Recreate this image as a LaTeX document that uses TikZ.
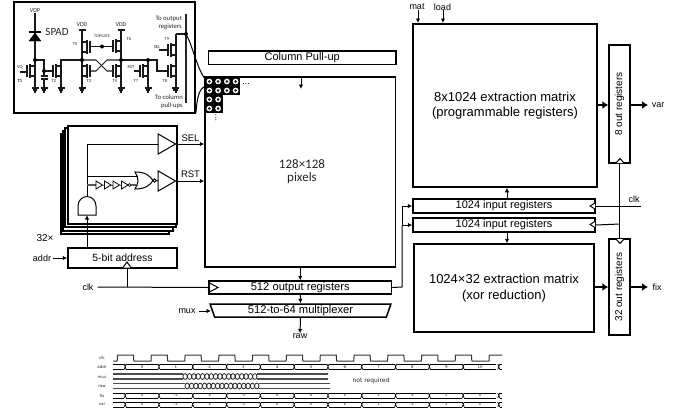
\documentclass[tikz,border=0pt]{standalone}
\usepackage{fontspec}
\setmainfont{Liberation Sans}
\newfontfamily\insetfont{Carlito}
\newfontfamily\wavefont{DejaVu Sans}
\usetikzlibrary{arrows.meta,calc,shapes.geometric}
\tikzset{
  bx/.style={draw=black,line width=1.5pt,fill=white,inner sep=0pt,align=center,font=\fontsize{11.2}{13}\selectfont},
  wire/.style={line width=1pt,black},
  arr/.style={wire,-{Latex[length=4.5pt,width=4.5pt]}},
  thickarr/.style={line width=2.4pt,-{Latex[length=6pt,width=8pt]}},
  lbl/.style={inner sep=0pt,font=\fontsize{9.5}{11}\selectfont},
  cw/.style={line width=1.05pt,black!90},
  clab/.style={inner sep=0pt,font=\insetfont\fontsize{4.6}{5}\selectfont,black!85},
  dot/.style={fill=black,circle,inner sep=0pt,minimum size=4pt},
  wl/.style={inner sep=0pt,font=\wavefont\fontsize{4}{4.5}\selectfont,black!85},
  wv/.style={line width=1pt,black},
  clktri/.style={draw=black,line width=1pt,fill=white},
  bigtxt/.style={font=\fontsize{13}{15.5}\selectfont},
  smalltxt/.style={font=\fontsize{10.4}{12}\selectfont},
  inputtxt/.style={font=\fontsize{11}{13}\selectfont}
}
% box from left top right bottom
\newcommand{\bxnode}[7][]{%
  \pgfmathsetmacro{\bxw}{#5-#3}\pgfmathsetmacro{\bxh}{#6-#4}%
  \pgfmathsetmacro{\bxx}{(#3+#5)/2}\pgfmathsetmacro{\bxy}{(#4+#6)/2}%
  \node[bx,#1,minimum width=\bxw pt,minimum height=\bxh pt] (#2) at (\bxx,\bxy) {#7};}
% transistor: channel x, centre y, direction of rail (+1 right, -1 left), top y of rail, bottom y of rail
\newcommand{\fet}[5]{%
  \pgfmathsetmacro{\rx}{#1+5*#3}\pgfmathsetmacro{\gx}{#1-3*#3}%
  \draw[cw] (#1,#2-7)--(#1,#2+7);
  \draw[cw] (\gx,#2-6)--(\gx,#2+6);
  \draw[cw] (#1,#2-5)--(\rx,#2-5);
  \draw[cw] (#1,#2+5)--(\rx,#2+5);
  \draw[cw] (\rx,#4)--(\rx,#5);}
\newcommand{\gnd}[1]{%
  \draw[cw] (#1-3.5,88)--(#1+3.5,88) (#1-2.3,90)--(#1+2.3,90) (#1-1,92)--(#1+1,92);}
\begin{document}
\begin{tikzpicture}[x=1pt,y=-1pt]
\useasboundingbox (0,0) rectangle (686,413);
% ---------------- inset
\node[draw=black,line width=1.5pt,inner sep=0pt,minimum width=181pt,minimum height=111pt] (inset) at (104.5,57.5) {};
\node[clab,font=\insetfont\fontsize{6}{7}\selectfont] (vdp) at (35,11) {VDP};
\coordinate (j1) at (35,60);
\draw[cw] (vdp.south)--(j1);
\draw[fill=black] (29,41)--(41,41)--(35,33)--cycle;
\draw[line width=1.4pt] (29,32)--(41,32);
\node[inner sep=0pt,font=\insetfont\fontsize{11}{12}\selectfont,black!85] (spad) at (57,32) {SPAD};
\fet{30}{71}{1}{60}{88}\gnd{35}
\node[clab] (vq) at (20,67.5) {VQ};
\node[clab,font=\insetfont\bfseries\fontsize{4.6}{5}\selectfont] (t1) at (20,81) {T1};
\draw[cw] (20,72)--(27,72);
\coordinate (j2) at (44,71);
\draw[cw] (j1)--(44,60)--(j2)--(53,71);
\draw[cw] (j2)--(44,76) (44,79)--(44,88);
\draw[cw] (40.5,76)--(47.5,76) (40.5,79)--(47.5,79);
\gnd{44}
\fet{56}{71}{1}{66}{88}\gnd{61}
\node[clab] (t2) at (54,81) {T2};
\coordinate (j3) at (82,60);
\coordinate (j4) at (121,60);
\coordinate (j5) at (148,60);
\draw[cw] (61,66)--(61,60)--(j3);
\draw[cw] (j4)--(j5);
\fet{87}{71}{-1}{60}{88}\gnd{82}
\fet{87}{47}{-1}{30}{60}
\fet{116}{71}{1}{60}{88}\gnd{121}
\fet{116}{46}{1}{30}{60}
\node[clab,font=\insetfont\fontsize{6}{7}\selectfont] (vdd1) at (82,24.5) {VDD};
\node[clab,font=\insetfont\fontsize{6}{7}\selectfont] (vdd2) at (121,24.5) {VDD};
\draw[cw] (78.5,30)--(85.5,30) (117.5,30)--(124.5,30);
\coordinate (j6) at (102,46.5);
\node[clab,font=\insetfont\fontsize{4.2}{5}\selectfont] (topgate) at (102,36) {TOPGATE};
\draw[cw] (90,46.5)--(113,46.5);
\draw[cw] (90,71)--(96,71)--(107,60)--(j4);
\draw[cw] (113,71)--(107,71)--(96,60)--(j3);
\node[clab] (t5) at (75,44) {T5};
\node[clab] (t6) at (129,39) {T6};
\node[clab] (t3) at (89,81) {T3};
\node[clab] (t4) at (115,81) {T4};
\fet{143}{71}{1}{60}{88}\gnd{148}
\node[clab] (rst2) at (131,67.5) {RST};
\draw[cw] (134,71)--(140,71);
\node[clab] (t7) at (136,81) {T7};
\draw[cw] (j5)--(157,60)--(157,71)--(168,71);
\fet{171}{71}{1}{55}{88}\gnd{175.5}
\fet{171}{50}{1}{34}{55}
\coordinate (j7) at (186,34);
\draw[cw] (176,34)--(j7);
\draw[line width=1.2pt,black!85] (186,14)--(186,103);
\node[clab] (sel2) at (157,47) {SEL};
\draw[cw] (159,50)--(168,50);
\node[clab] (t9) at (167,39) {T9};
\node[clab] (t8) at (165,81) {T8};
\node[inner sep=0pt,align=right,font=\insetfont\fontsize{6.7}{8}\selectfont,black!85,anchor=east] (toout) at (182,23) {To output\\registers};
\node[inner sep=0pt,align=right,font=\insetfont\fontsize{6.7}{8}\selectfont,black!85,anchor=east] (tocol) at (183,102) {To column\\pull-ups};
\foreach \c in {j1,j2,j3,j4,j5,j6,j7}{\node[dot] (d\c) at (\c) {};}
% ---------------- pixel array main box
\bxnode{pix}{205}{77}{395.5}{267}{}
\node[inner sep=0pt,align=center,font=\insetfont\fontsize{13}{13.5}\selectfont,black!85] (pixt) at (302,171.5) {128×128\\pixels};
\bxnode[inputtxt]{pull}{208.5}{51}{396}{64.5}{Column Pull-up}
\coordinate (pullend) at (301,89);
\draw[arr] (pix.north -| pullend)--(pullend);
% pixel cells
\foreach \i/\j in {0/0,1/0,2/0,3/0,0/1,1/1,2/1,3/1,0/2,1/2,0/3,1/3}{
  \fill[black] (205+\i*8.75,77+\j*9) rectangle ++(8.75,9);
  \fill[white] (205+\i*8.75+4.37,77+\j*9+4.5) circle (2.9);
  \fill[black!85] (205+\i*8.75+4.37,77+\j*9+4.5) circle (1.5);
}
\node[inner sep=0pt,font=\fontsize{9}{9}\selectfont] (hd) at (246,84) {...};
\node[inner sep=0pt,font=\fontsize{9}{9}\selectfont,rotate=90] (vd) at (216,118) {...};
\draw[line width=1pt] (j7) .. controls (192,44) and (197,68) .. (204.5,78);
\draw[line width=1pt] (196,112.5) .. controls (197,98) and (199,88) .. (206,86);
% ---------------- row block stack
\foreach \l/\t/\r/\b in {61/134/169/234,63/131/173/231,65/128/176/227}{
  \draw[line width=1.5pt,fill=white] (\l,\t) rectangle (\r,\b);
}
\draw[line width=1.5pt,fill=white] (68,126) rectangle (177,224);
\draw[line width=1.5pt] (68,126)--(68,224);
\node[lbl,font=\fontsize{10}{11}\selectfont] (n32) at (45,238) {32×};
\bxnode[smalltxt]{addrbox}{68}{248}{177}{268}{5-bit address}
\node[lbl,font=\fontsize{9}{11}\selectfont] (addrl) at (42,258) {addr};
\draw[arr] (addrl.east)++(2,0)--(addrbox.west);
% AND
\draw[line width=1pt,fill=white] (78,215)--(96,215)--(96,206) arc (0:-180:9 and 9.5)--cycle;
\coordinate (andtop) at (87,196.5);
\coordinate (andbot) at (87,215);
\draw[arr] (addrbox.north -| andbot)--(andbot);
% buffers
\node[draw,line width=1pt,isosceles triangle,isosceles triangle apex angle=60,inner sep=0pt,minimum height=17pt,minimum width=20pt,shape border rotate=0,fill=white] (bufa) at (164,144) {};
\node[draw,line width=1pt,isosceles triangle,isosceles triangle apex angle=60,inner sep=0pt,minimum height=17pt,minimum width=20pt,shape border rotate=0,fill=white] (bufb) at (164,181) {};
\draw[wire] (andtop)--(87,144)--(bufa.west);
\draw[arr] (bufa.east)--(pix.west |- bufa.east);
\draw[arr] (bufb.east)--(pix.west |- bufb.east);
\node[lbl] (sel) at (190.5,138) {SEL};
\node[lbl] (rstl) at (190.5,174.5) {RST};
% NOR + delay chain
\draw[line width=1pt,fill=white] (135,172) .. controls (146,172) and (150,176) .. (153,180.5) .. controls (150,185) and (146,189) .. (135,189) .. controls (139,183) and (139,178) .. (135,172)--cycle;
\draw[line width=.8pt,fill=white] (154.5,180.5) circle (1.8);
\draw[wire] (156.3,180.5)--(bufb.west);
\draw[wire] (87,176)--(137.5,176);
\draw[line width=1.1pt,black!65] (87,185)--(96,185);
\foreach \x [count=\k] in {96,104.5,113}{
  \draw[line width=.8pt,fill=white] (\x,181)--(\x+6.5,185)--(\x,189)--cycle;
  \draw[line width=.8pt,black!65] (\x+6.5,185)--(\x+8.5,185);
}
\draw[line width=.8pt,fill=white] (121.5,181)--(128,185)--(121.5,189)--cycle;
\draw[line width=.7pt,fill=white] (129.5,185) circle (1.5);
\draw[line width=1.1pt,black!65] (131,185)--(137.5,185);
% clk
\node[lbl,font=\fontsize{9}{11}\selectfont] (clkl) at (88,287) {clk};
\bxnode{outreg}{209}{281}{391.5}{294}{512 output registers}
\coordinate (clkj) at (127,287);
\coordinate (addrclk) at (127,263);
\draw[wire] (clkl.east)++(4,0)--(outreg.west);
\draw[wire] (clkj)--(addrclk);
\draw[clktri] (123,267.5)--(127,262)--(131,267.5);
\draw[line width=1pt] (209.5,283)--(218,287.5)--(209.5,292);
\draw[arr] (pix.south -| outreg.north)--(outreg.north);
\node[trapezium,draw=black,line width=1.5pt,fill=white,shape border rotate=180,trapezium stretches=true,trapezium left angle=75,trapezium right angle=75,inner sep=0pt,minimum width=181pt,minimum height=13pt,font=\fontsize{11.2}{13}\selectfont] (muxb) at (300.5,310.5) {512-to-64 multiplexer};
\draw[arr] (outreg.south)--(muxb.north);
\node[lbl,font=\fontsize{9}{11}\selectfont] (muxl) at (187,311) {mux};
\draw[arr] (muxl.east)++(3,0)--(211,311);
\node[lbl,font=\fontsize{9}{11}\selectfont] (rawl) at (300,336) {raw};
\draw[arr] (muxb.south)--(rawl.north);
% ---------------- right
\bxnode[bigtxt]{mat8}{413}{24}{597}{187}{8x1024 extraction matrix\\(programmable registers)}
\bxnode[inputtxt]{inA}{413}{199}{595}{213}{1024 input registers}
\bxnode[inputtxt]{inB}{413}{218}{595}{232}{1024 input registers}
\bxnode[bigtxt]{mat32}{414}{244}{594}{332}{1024×32 extraction matrix\\(xor reduction)}
\bxnode{out8}{609}{45}{630}{163}{\rotatebox{90}{\fontsize{10}{11}\selectfont 8 out registers}}
\bxnode{out32}{609}{239}{630}{335}{\rotatebox{90}{\fontsize{10}{11}\selectfont 32 out registers}}
\node[lbl,font=\fontsize{9}{11}\selectfont] (matl) at (417,7) {mat};
\node[lbl,font=\fontsize{9}{11}\selectfont] (loadl) at (442.5,7) {load};
\draw[arr] (418,10)--(418,23);
\draw[arr] (443,10)--(443,23);
\draw[arr] (inA.north -| 507,0)--(mat8.south -| 507,0);
\draw[arr] (inB.south -| 507,0)--(mat32.north -| 507,0);
\coordinate (busj) at (402,225);
\draw[wire] (outreg.east)--(402,287)--(busj);
\draw[arr] (402,287 |- inA.west)--(inA.west);
\draw[wire] (busj)--(402,206);
\draw[arr] (busj)--(inB.west);
\draw[thickarr] (mat8.east |- 0,105)--(out8.west |- 0,105);
\draw[thickarr] (out8.east |- 0,105)--(648,105);
\draw[thickarr] (mat32.east |- 0,287)--(out32.west |- 0,287);
\draw[thickarr] (out32.east |- 0,287)--(648,287);
\node[lbl,font=\fontsize{9}{11}\selectfont] (varl) at (658,105) {var};
\node[lbl,font=\fontsize{9}{11}\selectfont] (fixl) at (657,287.5) {fix};
\node[lbl,font=\fontsize{9}{11}\selectfont] (clkr) at (634,199) {clk};
\coordinate (clkend) at (641,206);
\draw[wire] (inA.east)--(clkend);
\coordinate (clkv) at (620,224);
\draw[wire] (inB.east)--(clkv);
\draw[wire] (out8.south)--(out32.north);
\draw[clktri] (616,163)--(620,158.5)--(624,163);
\draw[clktri] (616,239)--(620,243.5)--(624,239);
\draw[line width=.9pt,fill=white] (595,203)--(590,206)--(595,209);
\draw[line width=.9pt,fill=white] (595,221.5)--(590,224.5)--(595,227.5);
% ---------------- timing
\foreach \n/\y in {clk/358,addr/367,mux/377,raw/386,fix/395.5,var/404}{
  \node[wl] (w\n) at (102,\y) {\n};
}
\draw[wv,black!80,line join=round] (113,361)--(117.2,361)--(117.5,355)
  \foreach \k in {0,...,10}{ -- ({117.5+33.8*\k+16},355) -- ({117.5+33.8*\k+16.3},361) -- ({117.5+33.8*\k+33.5},361) -- ({117.5+33.8*\k+33.8},355) } -- (502,355);
% buses
\foreach \top/\bot/\nm/\vals in {
  364/369.5/a/{0,1,2,3,4,5,6,7,8,9,10},
  393/398/f/{x,-2,x,-1,x,0,x,1,x,2,x},
  402/407/v/{x,-2,x,-1,x,0,x,1,x,2,x}}{
  \draw[wv] (113,\top)--(124.2,\top) (113,\bot)--(124.2,\bot);
  \foreach \v [count=\k from 0] in \vals {
    \pgfmathsetmacro{\sx}{125.2+33.8*\k}
    \draw[wv,line width=.7pt] (\sx-1,\top)--(\sx+1,\bot) (\sx-1,\bot)--(\sx+1,\top);
    \draw[wv] (\sx+1,\top)--(\sx+32.8,\top) (\sx+1,\bot)--(\sx+32.8,\bot);
    \node[wl] (b\nm\k) at (\sx+16.9,{(\top+\bot)/2}) {\v};
  }
  \draw[wv,line width=.7pt] (497.8,\top)--(499.8,\bot) (497.8,\bot)--(499.8,\top);
  \draw[wv] (499.8,\top)--(502,\top) (499.8,\bot)--(502,\bot);
}
% mux and raw
\foreach \top/\bot/\sa/\sb/\en in {374/379/183/257/328,383.5/388.5/185/259/330}{
  \draw[line width=1.1pt,black!70] (113,\top)--(\sa,\top) (113,\bot)--(\sa,\bot) (\sb,\top)--(\en,\top) (\sb,\bot)--(\en,\bot);
  \foreach \k in {0,...,16}{
    \draw[line width=.8pt,black!85] ({\sa+(\k+.5)*4.35},{(\top+\bot)/2}) ellipse (2.2 and 2.9);
  }
}
\node[inner sep=0pt,font=\wavefont\fontsize{6}{7}\selectfont,black!85] (nr) at (371,381) {not required};
\end{tikzpicture}
\end{document}
